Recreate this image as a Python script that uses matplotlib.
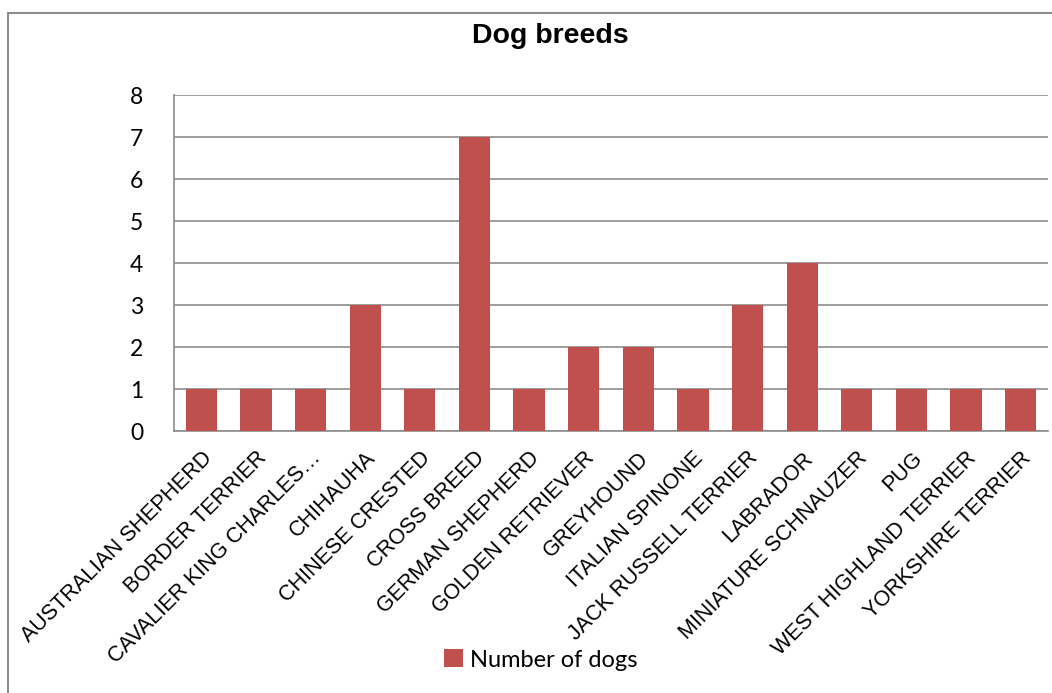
import matplotlib.pyplot as plt
from matplotlib.patches import Rectangle

# data
breeds = ['AUSTRALIAN SHEPHERD', 'BORDER TERRIER', 'CAVALIER KING CHARLES\u2026',
          'CHIHAUHA', 'CHINESE CRESTED', 'CROSS BREED', 'GERMAN SHEPHERD',
          'GOLDEN RETRIEVER', 'GREYHOUND', 'ITALIAN SPINONE', 'JACK RUSSELL TERRIER',
          'LABRADOR', 'MINIATURE SCHNAUZER', 'PUG', 'WEST HIGHLAND TERRIER',
          'YORKSHIRE TERRIER']
dogs = [1, 1, 1, 3, 1, 7, 1, 2, 2, 1, 3, 4, 1, 1, 1, 1]
y_ticks = [0, 1, 2, 3, 4, 5, 6, 7, 8]

W, H = 1052, 693
fig = plt.figure(figsize=(W / 100, H / 100), dpi=100)

# outer chart frame
fig.patches.append(Rectangle((8 / W, -0.05), 1.1, (H - 13) / H + 0.05,
                             transform=fig.transFigure, fill=False,
                             edgecolor='#8c8c8c', linewidth=1.5))

ax = fig.add_axes([174 / W, 1 - 431 / H, (1048 - 174) / W, (431 - 95) / H])

x = range(len(breeds))
ax.bar(x, dogs, width=0.57, color='#C0504D', label='Number of dogs', zorder=3)

ax.set_xlim(-0.5, len(breeds) - 0.5)
ax.set_ylim(0, 8)
ax.set_yticks(y_ticks)
ax.set_yticklabels([str(v) for v in y_ticks], fontfamily='Lato', fontsize=16.5)
ax.tick_params(axis='y', length=0, pad=22)
ax.yaxis.grid(True, color='#8c8c8c', linewidth=1.2, zorder=0)

ax.set_xticks(list(x))
ax.set_xticklabels(breeds, rotation=45, ha='right', va='top',
                   rotation_mode='anchor', fontfamily='Liberation Sans', fontsize=15.5)
ax.tick_params(axis='x', length=0, pad=12)

for s in ['top', 'right']:
    ax.spines[s].set_visible(False)
ax.spines['left'].set_color('#8c8c8c')
ax.spines['bottom'].set_color('#8c8c8c')
ax.spines['left'].set_linewidth(1.2)
ax.spines['bottom'].set_linewidth(1.2)

fig.text(550 / W, 1 - 36 / H, 'Dog breeds', ha='center', va='center',
         fontfamily='Liberation Sans', fontweight='bold', fontsize=20.5)

fig.legend(loc='center', bbox_to_anchor=(541 / W, 1 - 660 / H), frameon=False,
           prop={'family': 'Lato', 'size': 17}, handlelength=0.8, handleheight=0.8,
           handletextpad=0.3)

fig.savefig('out.png', dpi=100)
